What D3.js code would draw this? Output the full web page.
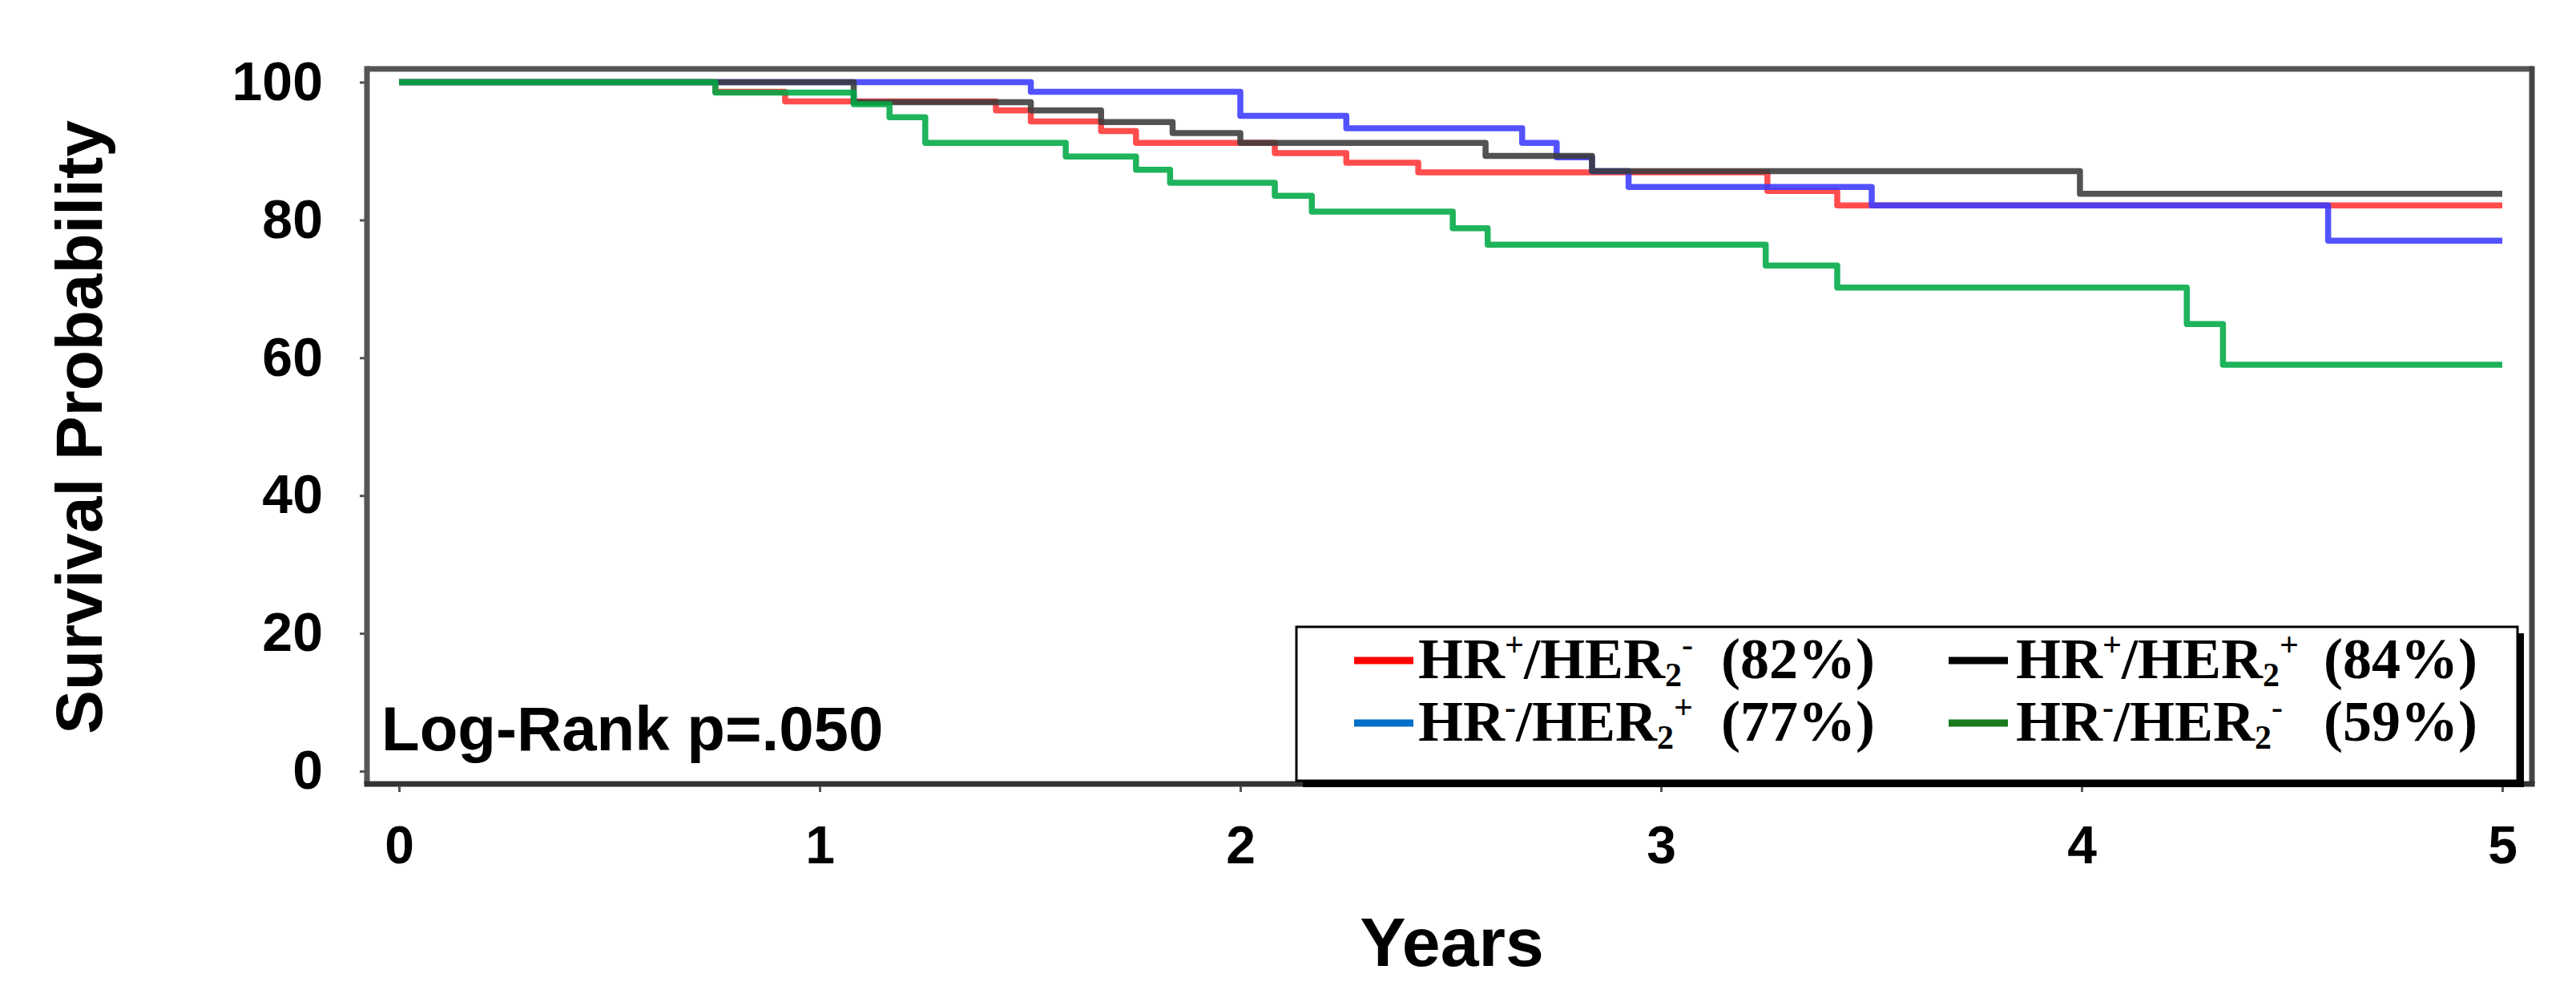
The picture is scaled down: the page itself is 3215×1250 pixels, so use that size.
<!DOCTYPE html>
<html><head><meta charset="utf-8">
<script src="https://cdn.jsdelivr.net/npm/d3@7"></script>
<style>body{margin:0;background:#fff}</style>
</head><body>
<svg id="c" width="3215" height="1250"></svg>
<script>
// ---- data ----
const yearTicks = [0, 1, 2, 3, 4, 5];
const survTicks = [0, 20, 40, 60, 80, 100];

const redTimes   = [0, 0.752, 0.918, 1.419, 1.502, 1.669, 1.752, 2.082, 2.252, 2.423, 3.253, 3.419, 5];
const redSurv    = [100, 98.6, 97.2, 95.9, 94.3, 92.9, 91.2, 89.7, 88.3, 86.9, 84.2, 82.1, 82.1];

const blackTimes = [0, 1.081, 1.502, 1.669, 1.839, 2.0, 2.583, 2.836, 3.996, 5];
const blackSurv  = [100, 97.1, 95.9, 94.2, 92.6, 91.2, 89.3, 87.1, 83.8, 83.8];

const blueTimes  = [0, 1.502, 2.0, 2.252, 2.67, 2.752, 2.836, 2.923, 3.501, 4.586, 5];
const blueSurv   = [100, 98.6, 95.1, 93.3, 91.2, 89.1, 87.1, 84.8, 82.1, 77.0, 77.0];

const greenTimes = [0, 0.752, 1.081, 1.166, 1.251, 1.585, 1.752, 1.833, 2.082, 2.17, 2.505, 2.588, 3.249, 3.419, 4.25, 4.336, 5];
const greenSurv  = [100, 98.5, 96.8, 94.9, 91.2, 89.2, 87.3, 85.4, 83.5, 81.2, 78.8, 76.4, 73.4, 70.2, 64.9, 59.0, 59.0];

const groupNames = ["HR+/HER2-", "HR-/HER2+", "HR+/HER2+", "HR-/HER2-"];
const groupPct   = ["(82%)", "(77%)", "(84%)", "(59%)"];

// ---- layout ----
const svg = d3.select("#c");
const L = 458, T = 86, R = 3160, B = 978;
const x = d3.scaleLinear().domain([0, 5]).range([498, 3123]);
const y = d3.scaleLinear().domain([0, 100]).range([962, 102.5]);

const series = [
  {t: redTimes,   s: redSurv,   color: "#ff3434"},
  {t: blueTimes,  s: blueSurv,  color: "#3a3aff"},
  {t: blackTimes, s: blackSurv, color: "#3a3a3a"},
  {t: greenTimes, s: greenSurv, color: "#00a844"}
];
const line = d3.line().x(d => x(d[0])).y(d => y(d[1])).curve(d3.curveStepAfter);
series.forEach(sr => {
  svg.append("path")
    .attr("d", line(sr.t.map((t, i) => [t, sr.s[i]])))
    .attr("fill", "none").attr("stroke", sr.color)
    .attr("stroke-width", 7.5).attr("stroke-opacity", 0.88)
    .attr("stroke-linejoin", "round");
});

// frame
svg.append("line").attr("x1", L).attr("x2", R).attr("y1", T).attr("y2", T).attr("stroke", "#555").attr("stroke-width", 7);
svg.append("line").attr("x1", L).attr("x2", L).attr("y1", T - 3.5).attr("y2", B).attr("stroke", "#555").attr("stroke-width", 7);
svg.append("line").attr("x1", R).attr("x2", R).attr("y1", T - 3.5).attr("y2", B).attr("stroke", "#444").attr("stroke-width", 7);
svg.append("line").attr("x1", L - 3.5).attr("x2", R + 3.5).attr("y1", B).attr("y2", B).attr("stroke", "#333").attr("stroke-width", 7);

// axes
const font = "'Liberation Sans', Arial, sans-serif";
const yAxis = svg.append("g").attr("transform", `translate(${L - 3},0)`)
  .call(d3.axisLeft(y).tickValues(survTicks).tickSize(6).tickPadding(46));
yAxis.select(".domain").remove();
yAxis.selectAll("line").attr("stroke", "#555").attr("stroke-width", 3);
yAxis.selectAll("text").attr("font-family", font).attr("font-weight", "bold").attr("font-size", 68).attr("fill", "#000");

const xAxis = svg.append("g").attr("transform", `translate(0,${B + 3})`)
  .call(d3.axisBottom(x).tickValues(yearTicks).tickSize(7).tickPadding(42).tickFormat(d3.format("d")));
xAxis.select(".domain").remove();
xAxis.selectAll("line").attr("stroke", "#555").attr("stroke-width", 3);
xAxis.selectAll("text").attr("font-family", font).attr("font-weight", "bold").attr("font-size", 66).attr("fill", "#000");

// axis titles
svg.append("text").attr("transform", "translate(127,533) rotate(-90)")
  .attr("text-anchor", "middle").attr("font-family", font).attr("font-weight", "bold")
  .attr("font-size", 82).text("Survival Probability");
svg.append("text").attr("x", 1812).attr("y", 1205).attr("text-anchor", "middle")
  .attr("font-family", font).attr("font-weight", "bold").attr("font-size", 86).text("Years");

svg.append("text").attr("x", 476).attr("y", 936).attr("font-family", font).attr("font-weight", "bold")
  .attr("font-size", 78).text("Log-Rank p=.050");

// legend
const LG = {x0: 1618, y0: 782, x1: 3142, y1: 974};
svg.append("rect").attr("x", LG.x0 + 8).attr("y", LG.y0 + 8).attr("width", LG.x1 - LG.x0).attr("height", LG.y1 - LG.y0).attr("fill", "#000");
svg.append("rect").attr("x", LG.x0).attr("y", LG.y0).attr("width", LG.x1 - LG.x0).attr("height", LG.y1 - LG.y0)
  .attr("fill", "#fff").attr("stroke", "#000").attr("stroke-width", 3);

const swatch = ["#ff0000", "#0070c8", "#000000", "#1a7a1a"];
const cols = [{sw: 1690, tx: 1770, pc: 2148}, {sw: 2432, tx: 2516, pc: 2900}];
const rows = [846, 924];
const serif = "'Liberation Serif', 'Times New Roman', serif";
groupNames.forEach((name, i) => {
  const c = cols[Math.floor(i / 2)], by = rows[i % 2];
  svg.append("line").attr("x1", c.sw).attr("x2", c.sw + 74).attr("y1", by - 22).attr("y2", by - 22)
    .attr("stroke", swatch[i]).attr("stroke-width", 9);
  const m = name.match(/HR([+-])\/HER2([+-])/);
  const t = svg.append("text").attr("x", c.tx).attr("y", by).attr("font-family", serif)
    .attr("font-weight", "bold").attr("font-size", 72).attr("fill", "#000");
  t.append("tspan").text("HR");
  t.append("tspan").attr("font-size", 42).attr("dy", -28).text(m[1]);
  t.append("tspan").attr("dy", 28).text("/HER");
  t.append("tspan").attr("font-size", 42).attr("dy", 10).text("2");
  t.append("tspan").attr("font-size", 42).attr("dy", -38).text(m[2]);
  svg.append("text").attr("x", c.pc).attr("y", by).attr("font-family", serif)
    .attr("font-weight", "bold").attr("font-size", 72).attr("fill", "#000").text(groupPct[i]);
});
</script>
</body></html>
